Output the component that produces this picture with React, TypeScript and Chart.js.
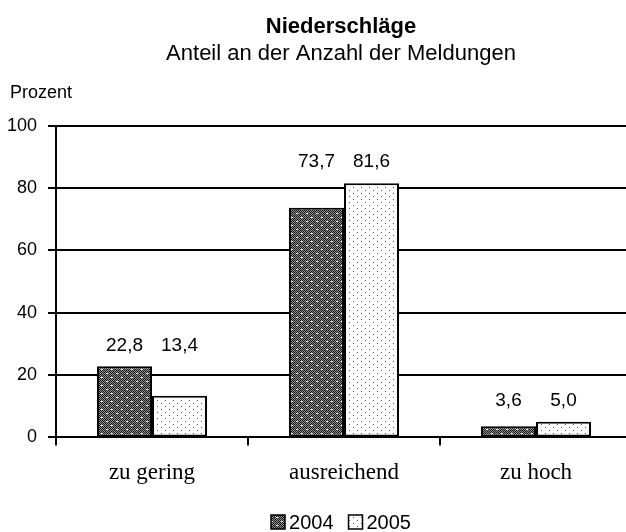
import React, { useEffect, useRef } from "react";
import { Chart, registerables } from "chart.js";

Chart.register(...registerables);

const categories = ["zu gering", "ausreichend", "zu hoch"];
const seriesNames = ["2004", "2005"];
const values2004 = [22.8, 73.7, 3.6];
const values2005 = [13.4, 81.6, 5.0];
const yTicks = [0, 20, 40, 60, 80, 100];

const SANS = '"Liberation Sans", Arial, Helvetica, sans-serif';
const SERIF = '"Liberation Serif", "Times New Roman", serif';

function makePattern(kind: "dark" | "light"): CanvasPattern | string {
  const c = document.createElement("canvas");
  const w = kind === "dark" ? 10 : 8;
  const h = kind === "dark" ? 8 : 6;
  c.width = w;
  c.height = h;
  const g = c.getContext("2d");
  if (!g) return kind === "dark" ? "#555" : "#fff";
  if (kind === "dark") {
    for (let y = 0; y < h; y++) {
      for (let x = 0; x < w; x++) {
        g.fillStyle = (x + y) % 2 === 0 ? "#1a1a1a" : "#8c8c8c";
        g.fillRect(x, y, 1, 1);
      }
    }
    g.fillStyle = "#fff";
    g.fillRect(1, 1, 2, 1);
    g.fillRect(6, 5, 2, 1);
  } else {
    g.fillStyle = "#fff";
    g.fillRect(0, 0, w, h);
    g.fillStyle = "#555";
    g.fillRect(1, 1, 1, 1);
    g.fillRect(5, 4, 1, 1);
  }
  const p = g.createPattern(c, "repeat");
  return p || (kind === "dark" ? "#555" : "#fff");
}

const valueLabelPlugin = {
  id: "valueLabels",
  afterDatasetsDraw(chart: any) {
    const ctx = chart.ctx;
    ctx.save();
    ctx.font = `19px ${SANS}`;
    ctx.fillStyle = "#000";
    ctx.textAlign = "center";
    ctx.textBaseline = "middle";
    const metas = chart.data.datasets.map((_: any, i: number) => chart.getDatasetMeta(i));
    const n = chart.data.labels.length;
    for (let j = 0; j < n; j++) {
      let top = Infinity;
      metas.forEach((m: any) => {
        const el = m.data[j];
        if (el && el.y < top) top = el.y;
      });
      metas.forEach((m: any, di: number) => {
        const el = m.data[j];
        const v = chart.data.datasets[di].data[j] as number;
        ctx.fillText(v.toFixed(1).replace(".", ","), el.x, top - 21);
      });
    }
    ctx.restore();
  },
};

const extrasPlugin = {
  id: "extras",
  afterDraw(chart: any) {
    const ctx = chart.ctx;
    const a = chart.chartArea;
    ctx.save();
    // axis unit label
    ctx.font = `18px ${SANS}`;
    ctx.fillStyle = "#000";
    ctx.textAlign = "left";
    ctx.textBaseline = "middle";
    ctx.fillText("Prozent", a.left - 46, a.top - 33);

    // legend
    const box = 14;
    const gap = 4;
    const itemGap = 15;
    ctx.font = `20px ${SANS}`;
    const items = chart.data.datasets.map((d: any) => ({
      label: d.label as string,
      fill: d.backgroundColor,
      w: box + gap + ctx.measureText(d.label).width,
    }));
    const total = items.reduce((s: number, it: any) => s + it.w, 0) + itemGap * (items.length - 1);
    let x = chart.width / 2 - total / 2;
    const cy = chart.height - 10;
    items.forEach((it: any) => {
      ctx.fillStyle = it.fill;
      ctx.fillRect(x, cy - box / 2, box, box);
      ctx.strokeStyle = "#000";
      ctx.lineWidth = 1.5;
      ctx.strokeRect(x, cy - box / 2, box, box);
      ctx.fillStyle = "#000";
      ctx.fillText(it.label, x + box + gap, cy + 1);
      x += it.w + itemGap;
    });
    ctx.restore();
  },
};

export default function App() {
  const ref = useRef<HTMLCanvasElement | null>(null);
  useEffect(() => {
    if (!ref.current) return;
    const dark = makePattern("dark");
    const light = makePattern("light");
    const chart = new Chart(ref.current, {
      type: "bar",
      data: {
        labels: categories,
        datasets: [
          {
            label: seriesNames[0],
            data: values2004,
            backgroundColor: dark as any,
            borderColor: "#000",
            borderWidth: 2,
            borderSkipped: false,
          },
          {
            label: seriesNames[1],
            data: values2005,
            backgroundColor: light as any,
            borderColor: "#000",
            borderWidth: 2,
            borderSkipped: false,
          },
        ],
      },
      options: {
        responsive: false,
        animation: false,
        devicePixelRatio: 1,
        datasets: { bar: { barPercentage: 1, categoryPercentage: 0.573 } },
        layout: { padding: { left: 0, right: 0, top: 0, bottom: 31 } },
        plugins: {
          title: {
            display: true,
            text: "Niederschläge",
            color: "#000",
            font: { family: SANS, size: 22, weight: "bold", lineHeight: 1.2 },
            padding: { top: 14, bottom: 0 },
          },
          subtitle: {
            display: true,
            text: "Anteil an der Anzahl der Meldungen",
            color: "#000",
            font: { family: SANS, size: 22, lineHeight: 1.2 },
            padding: { top: 0, bottom: 59 },
          },
          legend: { display: false },
          tooltip: { enabled: false },
        },
        scales: {
          x: {
            offset: true,
            grid: {
              offset: true,
              drawOnChartArea: false,
              drawTicks: true,
              tickLength: 8,
              color: "#000",
              lineWidth: 2,
            },
            border: { display: true, color: "#000", width: 2 },
            ticks: {
              color: "#000",
              padding: 14,
              font: { family: SERIF, size: 23 },
            },
          },
          y: {
            min: 0,
            max: 100,
            afterFit(scale: any) {
              scale.width = 56;
            },
            afterBuildTicks(scale: any) {
              scale.ticks = yTicks.map((v) => ({ value: v }));
            },
            grid: {
              color: "#000",
              lineWidth: 2,
              drawTicks: true,
              tickLength: 8,
            },
            border: { display: true, color: "#000", width: 2 },
            ticks: {
              color: "#000",
              padding: 11,
              font: { family: SANS, size: 18 },
            },
          },
          yRight: {
            type: "linear",
            position: "right",
            display: true,
            min: 0,
            max: 100,
            afterFit(scale: any) {
              scale.width = 50;
            },
            grid: { display: false, drawTicks: false },
            border: { display: false },
            ticks: { display: false },
          },
        },
      },
      plugins: [valueLabelPlugin, extrasPlugin],
    });
    return () => chart.destroy();
  }, []);
  return (
    <div
      style={{
        position: "fixed",
        left: 0,
        top: 0,
        width: 626,
        height: 532,
        overflow: "hidden",
        background: "#fff",
      }}
    >
      <canvas ref={ref} width={682} height={532} style={{ width: 682, height: 532, display: "block" }} />
    </div>
  );
}
